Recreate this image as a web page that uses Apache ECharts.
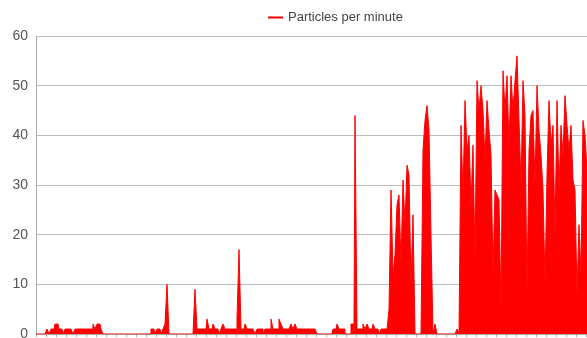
<!DOCTYPE html>
<html>
<head>
<meta charset="utf-8">
<script src="https://cdn.jsdelivr.net/npm/echarts@6/dist/echarts.min.js"></script>
<style>
  html, body { margin: 0; padding: 0; background: #fff; }
  #chart { width: 587px; height: 338px; }
</style>
</head>
<body>
<div id="chart"></div>
<script>
// 每分钟粒子数（从图上读出来的）
const particles = [
  0, 0, 0, 0, 0, 0,
  1, 0, 1, 1, 2, 2, 1, 1, 0, 1, 1, 1, 1, 0, 1, 1, 1, 1, 1, 1, 1, 1, 1, 2, 1, 2, 2, 1, 0,
  0, 0, 0, 0, 0, 0, 0, 0, 0, 0, 0, 0, 0, 0, 0, 0, 0, 0, 0, 0, 0, 0, 0,
  1, 1, 0, 1, 1, 0, 1, 2, 10, 0,
  0, 0, 0, 0, 0, 0, 0, 0, 0, 0, 0, 0,
  9, 1, 1, 1, 1, 1, 3, 1, 1, 2, 1, 1, 0, 1, 2, 1, 1, 1, 1, 1, 1, 3, 17, 1, 1, 2, 1, 1, 1, 1,
  0, 1, 1, 1, 0, 1, 1, 1, 3, 1, 1, 1, 3, 2, 1, 1, 1, 1, 2, 1, 2, 1, 1, 1, 1, 1, 1, 1, 1, 1, 1, 0,
  0, 0, 0, 0, 0, 0, 0,
  1, 1, 2, 1, 1, 1, 0, 0, 0, 2, 2, 44, 1, 1, 1, 2, 1, 2, 1, 1, 2, 1, 1, 0, 1, 1, 1, 1, 5,
  29, 12, 16, 26, 28, 14, 31, 22, 34, 32, 10, 24, 0, 0, 0, 0, 37, 43, 46, 41,
  20, 0, 2, 0, 0, 0, 0, 0, 0, 0, 0, 0, 0, 1, 0,
  42, 28, 47, 37, 40, 26, 38, 15, 51, 45, 50, 45, 35, 47, 41, 36, 12, 29, 28, 27,
  5, 53, 45, 52, 38, 52, 45, 51, 56, 43, 30, 51, 44, 8, 37, 44, 45, 30, 50, 41,
  36, 29, 10, 32, 47, 38, 42, 20, 47, 29, 42, 36, 48, 42, 37, 42, 31, 29, 8, 22,
  12, 43, 40, 33
];
// x轴：分钟序号（标签不显示）
const minutes = particles.map((_, i) => i);
const yTicks = [0, 10, 20, 30, 40, 50, 60];

const chart = echarts.init(document.getElementById('chart'));

const option = {
  animation: false,
  legend: {
    left: 263,
    top: 6,
    icon: 'rect',
    itemWidth: 15,
    itemHeight: 2,
    itemGap: 10,
    textStyle: { fontSize: 13, color: '#444', fontFamily: 'Liberation Sans' },
    data: ['Particles per minute'],
  },
  grid: { left: 36, top: 36, right: -1, bottom: 4, outerBoundsMode: 'none' },
  xAxis: {
    type: 'category',
    data: minutes,
    boundaryGap: false,
    axisLine: { lineStyle: { color: '#aaa' } },
    axisTick: { show: true, interval: 4, length: 3, lineStyle: { color: '#aaa' } },
    axisLabel: { show: false },
    splitLine: { show: false },
  },
  yAxis: {
    type: 'value',
    min: yTicks[0],
    max: yTicks[yTicks.length - 1],
    interval: 10,
    axisLine: { show: true, lineStyle: { color: '#aaa' } },
    axisTick: { show: false },
    axisLabel: { fontSize: 14, color: '#555', margin: 8, fontFamily: 'Liberation Sans' },
    splitLine: { lineStyle: { color: '#bbb' } },
  },
  series: [
    {
      name: 'Particles per minute',
      type: 'line',
      step: 'middle',
      data: particles,
      symbol: 'none',
      lineStyle: { color: '#ff0000', width: 1 },
      itemStyle: { color: '#ff0000' },
      areaStyle: { color: '#ff0000', opacity: 1 },
    },
  ],
};

chart.setOption(option);
</script>
</body>
</html>
